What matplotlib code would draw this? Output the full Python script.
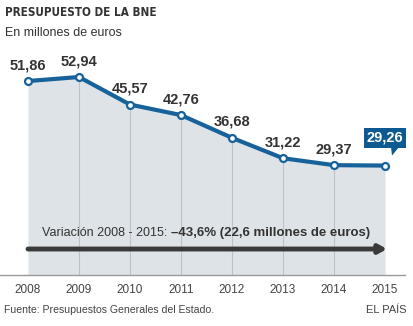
import matplotlib
matplotlib.use("Agg")
import matplotlib.pyplot as plt
from matplotlib import font_manager
from matplotlib.patches import Polygon

years = [2008, 2009, 2010, 2011, 2012, 2013, 2014, 2015]
budget = [51.86, 52.94, 45.57, 42.76, 36.68, 31.22, 29.37, 29.26]
labels = ["51,86", "52,94", "45,57", "42,76", "36,68", "31,22", "29,37", "29,26"]

LINE = "#17629a"
BOX = "#0d5a92"
FILL = "#dde3e7"
GRID = "#bcc3c8"
TXT = "#333333"

plt.rcParams["font.family"] = ["Liberation Sans", "DejaVu Sans"]

fig = plt.figure(figsize=(4.14, 3.26), dpi=100)
# axes spans full width; baseline (value 0) at y=275px from top
ax = fig.add_axes([0, 51 / 326, 1, 215 / 326])
ax.set_xlim(2008 - 28 / 51, 2015 + 29 / 51)
ax.set_ylim(0, 215 / 3.74)
ax.axis("off")

ax.fill_between(years, budget, 0, color=FILL, lw=0, zorder=1)
ax.vlines(years[1:-1], 0, budget[1:-1], color=GRID, lw=0.8, zorder=2)
ax.plot([2008 - 28 / 51, 2015 + 20 / 51], [0, 0], color="#9a9a9a", lw=1,
        clip_on=False, zorder=3)
ax.plot(years, budget, color=LINE, lw=3, zorder=4, solid_capstyle="round")
ax.plot(years, budget, "o", ms=5, mfc="white", mec=LINE, mew=1.6, zorder=5)

for x, y, s in zip(years[:-1], budget[:-1], labels[:-1]):
    ax.annotate(s, (x, y), xytext=(0, 11.5), textcoords="offset points",
                ha="center", va="center", fontsize=10.5, fontweight="bold",
                color=TXT)

# callout for last value
lx, ly = years[-1], budget[-1]
ax.annotate(labels[-1], (lx, ly), xytext=(0, 20), textcoords="offset points",
            ha="center", va="center", fontsize=10.5, fontweight="bold",
            color="white", zorder=6,
            bbox=dict(boxstyle="square,pad=0.2", fc=BOX, ec="none"))
tri = Polygon([(lx + 6 / 51, ly + 18.5 / 3.74), (lx + 14 / 51, ly + 18.5 / 3.74),
               (lx + 7 / 51, ly + 10 / 3.74)], closed=True, fc=BOX, ec="none",
              zorder=6)
ax.add_patch(tri)

# variation arrow
ax.annotate("", xy=(years[-1] + 2 / 51, 6.95), xytext=(years[0], 6.95),
            arrowprops=dict(arrowstyle="-|>,head_length=0.45,head_width=0.25",
                            lw=3.5, color="#3a3a3a", shrinkA=0, shrinkB=0),
            zorder=6)
split = 2008 + (171 - 28) / 51
ax.text(split, 11.2, "Variación 2008 - 2015: ", ha="right", va="center",
        fontsize=9, color=TXT, zorder=6)
ax.text(split, 11.2, "\u201343,6% (22,6 millones de euros)", ha="left",
        va="center", fontsize=9.5, fontweight="bold", color=TXT, zorder=6)

for x in years:
    ax.text(x, -2.4, str(x), ha="center", va="top", fontsize=8.5,
            color="#444444")

title_font = font_manager.FontProperties(family="DejaVu Sans",
                                         stretch="condensed", weight="bold",
                                         size=8.4)
fig.text(5 / 414, 1 - 12 / 326, "PRESUPUESTO DE LA BNE", ha="left",
         va="center", color=TXT, fontproperties=title_font)
fig.text(5 / 414, 1 - 33 / 326, "En millones de euros", ha="left",
         va="center", fontsize=9, color=TXT)
fig.text(4 / 414, 1 - 310 / 326, "Fuente: Presupuestos Generales del Estado.",
         ha="left", va="center", fontsize=7.6, color="#444444")
fig.text(407 / 414, 1 - 310 / 326, "EL PAÍS", ha="right", va="center",
         fontsize=8, color="#444444")

fig.savefig("out.png", dpi=100)
